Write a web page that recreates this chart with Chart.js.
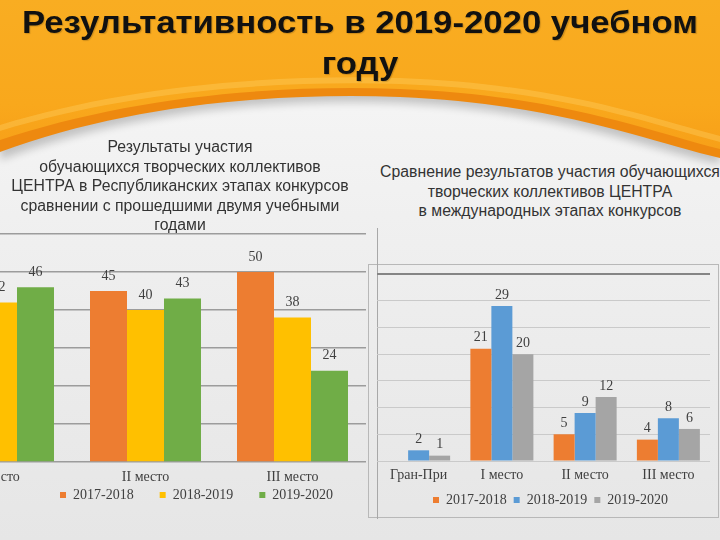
<!DOCTYPE html>
<html>
<head>
<meta charset="utf-8">
<script src="https://cdn.jsdelivr.net/npm/chart.js@4.4.1/dist/chart.umd.min.js"></script>
<style>
  html, body { margin:0; padding:0; }
  body { width:720px; height:540px; overflow:hidden; position:relative; background:#ececec; }
  .abs { position:absolute; }
  #title { left:0; top:2px; width:720px; text-align:center; font-family:"Liberation Sans", Arial, sans-serif; font-weight:bold; font-size:32px; line-height:41px; color:#111; white-space:nowrap; transform-origin:360px 0; text-shadow:1px 1px 1px rgba(0,0,0,0.18); }
  #title span { display:inline-block; }
  .ctitle { font-family:"Liberation Sans", Arial, sans-serif; font-size:15.8px; line-height:19.5px; color:#333; text-align:center; white-space:nowrap; }
  canvas { position:absolute; }
</style>
</head>
<body>
<svg class="abs" style="left:0;top:0" width="720" height="540">
  <defs>
    <linearGradient id="bg" x1="0" y1="0" x2="0" y2="1">
      <stop offset="0" stop-color="#f8f8f8"/>
      <stop offset="0.45" stop-color="#efefef"/>
      <stop offset="1" stop-color="#e6e6e6"/>
    </linearGradient>
    <linearGradient id="org" x1="0" y1="0" x2="0" y2="1">
      <stop offset="0" stop-color="#f9ad22"/>
      <stop offset="0.7" stop-color="#f9a81c"/>
      <stop offset="1" stop-color="#f7a018"/>
    </linearGradient>
    <filter id="sh" x="-10%" y="-10%" width="120%" height="140%"><feGaussianBlur stdDeviation="4"/></filter>
  </defs>
  <rect width="720" height="540" fill="url(#bg)"/>
  <path d="M0,0 H720 V164 C650,150 560,110 400,103 C260,98 120,114 0,160 Z" fill="#000" opacity="0.2" filter="url(#sh)"/>
  <path d="M0,0 H720 V158 C650,142 560,104 400,97 C260,92 120,108 0,152 Z" fill="#ee890f"/>
  <path d="M0,0 H720 V149 C650,132 560,95 400,89 C260,84 120,100 0,140 Z" fill="url(#org)"/>
  <path d="M0,125 C120,88 260,74 400,78 C560,84 650,118 720,136 L720,142 C650,124 560,90 400,84 C260,80 120,94 0,131 Z" fill="#ffd36a" opacity="0.35"/>
</svg>

<div class="abs" style="left:368px;top:264px;width:349px;height:252px;border:1px solid #b8b8b8;"></div>
<div class="abs" style="left:377px;top:228px;width:1px;height:291px;background:#a8a8a8;"></div>

<canvas id="leftChart" width="564" height="288" style="left:-75px;top:224px;"></canvas>
<canvas id="rightChart" width="347" height="253" style="left:377px;top:264px;"></canvas>

<div id="title" class="abs"><span id="t1">Результативность в 2019-2020 учебном</span><br><span>году</span></div>
<div class="abs ctitle" style="left:0;top:137px;width:360px;">Результаты участия<br>обучающихся творческих коллективов<br>ЦЕНТРА в Республиканских этапах конкурсов<br>сравнении с прошедшими двумя учебными<br>годами</div>
<div class="abs ctitle" style="left:380px;top:162px;width:340px;">Сравнение результатов участия обучающихся<br>творческих коллективов ЦЕНТРА<br>в международных этапах конкурсов</div>

<script>
// ---- data ----
const seriesNames = ['2017-2018', '2018-2019', '2019-2020'];

const leftCategories = ['I место', 'II место', 'III место'];
const left2017 = [47, 45, 50];
const left2018 = [42, 40, 38];
const left2019 = [46, 43, 24];
const leftAxisMax = 60;
const leftAxisStep = 10;

const rightCategories = ['Гран-При', 'I место', 'II место', 'III место'];
const right2017 = [null, 21, 5, 4];
const right2018 = [2, 29, 9, 8];
const right2019 = [1, 20, 12, 6];
const rightAxisMax = 35;
const rightAxisStep = 5;

const leftColors = ['#ED7D31', '#FFC000', '#70AD47'];
const rightColors = ['#ED7D31', '#5B9BD5', '#A5A5A5'];

// fit the page title to its width
(function () {
  const t = document.getElementById('title');
  const w = document.getElementById('t1').getBoundingClientRect().width;
  t.style.transform = 'scaleX(' + (676 / w) + ')';
})();

Chart.defaults.font.family = '"Liberation Serif", "Times New Roman", serif';
Chart.defaults.color = '#404040';

const valueLabels = {
  id: 'valueLabels',
  afterDatasetsDraw(chart, args, opts) {
    const ctx = chart.ctx;
    ctx.save();
    ctx.font = opts.size + 'px "Liberation Serif", serif';
    ctx.fillStyle = '#404040';
    ctx.textAlign = 'center';
    ctx.textBaseline = 'middle';
    chart.data.datasets.forEach((ds, i) => {
      const meta = chart.getDatasetMeta(i);
      meta.data.forEach((bar, j) => {
        const v = ds.data[j];
        if (v === null || v === undefined) return;
        ctx.fillText(String(v), bar.x, bar.y - opts.offset);
      });
    });
    ctx.restore();
  }
};

function makeChart(id, cats, series, colors, max, step, o) {
  return new Chart(document.getElementById(id), {
    type: 'bar',
    data: {
      labels: cats,
      datasets: series.map((d, i) => ({
        label: seriesNames[i],
        data: d,
        backgroundColor: colors[i],
        borderWidth: 0,
        barPercentage: 1,
        categoryPercentage: o.catPct
      }))
    },
    options: {
      responsive: false,
      animation: false,
      devicePixelRatio: 1,
      layout: { padding: { top: 10, left: 0, right: 0, bottom: 0 } },
      plugins: {
        legend: {
          position: 'bottom',
          labels: {
            boxWidth: 6, boxHeight: 6,
            padding: o.legendPad,
            color: '#404040',
            font: { size: 14 },
            generateLabels: (chart) => {
              const items = Chart.defaults.plugins.legend.labels.generateLabels(chart);
              items.forEach((it) => { it.text = it.text + o.legendGap; });
              return items;
            }
          }
        },
        tooltip: { enabled: false },
        valueLabels: { offset: o.labelOffset, size: 14 }
      },
      scales: {
        x: {
          grid: { display: false, drawTicks: false },
          border: { display: false },
          ticks: { padding: o.tickPad, color: '#404040', font: { size: 14 } },
          afterFit: (s) => { s.height = o.xHeight; }
        },
        y: {
          position: 'right',
          min: 0, max: max,
          ticks: { display: false, stepSize: step },
          border: { display: false },
          grid: {
            drawTicks: false,
            color: o.gridColor,
            lineWidth: o.gridWidth
          },
          afterFit: (s) => { s.width = o.yWidth; }
        }
      }
    },
    plugins: [valueLabels]
  });
}

makeChart('leftChart', leftCategories, [left2017, left2018, left2019], leftColors, leftAxisMax, leftAxisStep, {
  catPct: 0.755, legendPad: 5, legendGap: '      ', labelOffset: 15, tickPad: 7, xHeight: 21, yWidth: 123,
  gridColor: '#9c9c9c', gridWidth: 1.5
});

makeChart('rightChart', rightCategories, [right2017, right2018, right2019], rightColors, rightAxisMax, rightAxisStep, {
  catPct: 0.757, legendPad: 7, legendGap: '', labelOffset: 11, tickPad: 6, xHeight: 25, yWidth: 14,
  gridColor: (c) => (c.tick && c.tick.value === rightAxisMax) ? '#858585' : '#cacaca',
  gridWidth: (c) => (c.tick && c.tick.value === rightAxisMax) ? 2 : 1
});
</script>
</body>
</html>
